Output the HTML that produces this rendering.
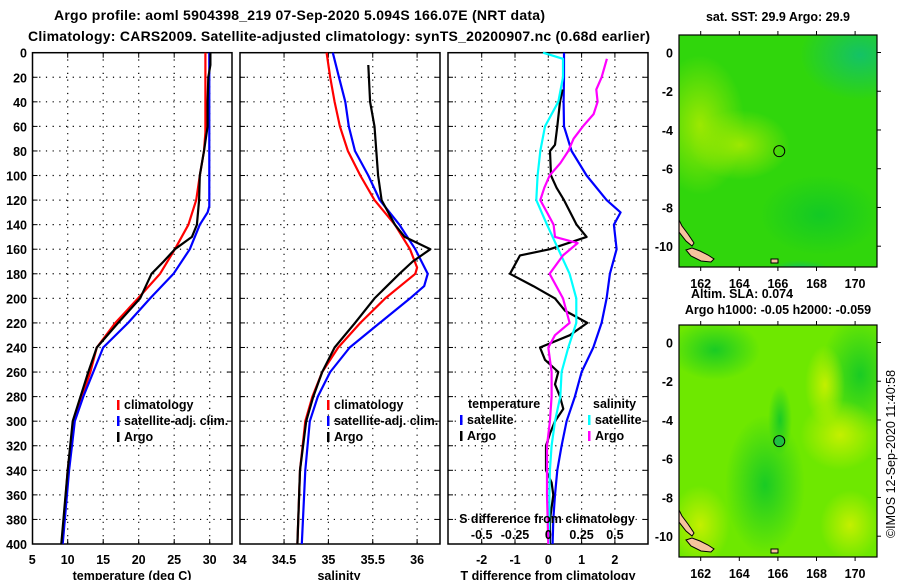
<!DOCTYPE html>
<html><head><meta charset="utf-8"><style>
body{margin:0;background:#fff;}
svg{display:block;font-family:"Liberation Sans",sans-serif;font-weight:bold;}
</style></head><body>
<svg id="fig" width="900" height="580" viewBox="0 0 900 580">
<defs>
<radialGradient id="yg1"><stop offset="0" stop-color="#a8ea00" stop-opacity="0.9"/><stop offset="1" stop-color="#a8ea00" stop-opacity="0"/></radialGradient>
<radialGradient id="dg1"><stop offset="0" stop-color="#10c828" stop-opacity="0.9"/><stop offset="1" stop-color="#10c828" stop-opacity="0"/></radialGradient>
<radialGradient id="bg1"><stop offset="0" stop-color="#10c070" stop-opacity="0.9"/><stop offset="1" stop-color="#10c070" stop-opacity="0"/></radialGradient>
<radialGradient id="yy"><stop offset="0" stop-color="#c8f000" stop-opacity="0.95"/><stop offset="1" stop-color="#c8f000" stop-opacity="0"/></radialGradient>
<clipPath id="cm1"><rect x="679" y="35" width="198" height="232"/></clipPath>
<clipPath id="cm2"><rect x="679" y="325" width="198" height="232"/></clipPath>
</defs>
<text x="54" y="20" font-size="14" textLength="491">Argo profile: aoml 5904398_219 07-Sep-2020 5.094S 166.07E (NRT data)</text>
<text x="28" y="41" font-size="14" textLength="622">Climatology: CARS2009. Satellite-adjusted climatology: synTS_20200907.nc (0.68d earlier)</text>
<g id="maps"></g>
<g id="panels"></g>
</svg>
<script>
// ---- data ----
const depthTicks=[0,20,40,60,80,100,120,140,160,180,200,220,240,260,280,300,320,340,360,380,400];
const tTicks=[5,10,15,20,25,30];
const sTicks=[34,34.5,35,35.5,36];
const dTTicks=[-2,-1,0,1,2];
const dSTicks=[-0.5,-0.25,0,0.25,0.5];
const tempClimDepth=[0,65,80,100,120,140,160,180,200,220,240,260,280,300,340,400];
const tempClim=[29.4,29.4,29.2,28.6,28.1,27,25.1,23,19.9,16.7,14.1,13.2,12,10.8,10,9.2];
const tempSatDepth=[0,125,130,140,160,180,200,220,240,260,280,300,340,400];
const tempSat=[29.95,29.95,29.7,28.6,27.2,24.9,21.6,18.5,15,13.6,12.2,11,10.2,9.3];
const tempArgoDepth=[0,10,20,40,60,80,100,120,140,150,160,170,180,200,220,240,260,280,300,340,400];
const tempArgo=[30.1,30.1,29.8,29.7,29.7,29.2,28.6,28.5,28.2,27.5,25.1,23.5,21.8,20.2,17.1,14.1,12.9,11.8,10.7,10,9.1];
const salClimDepth=[0,20,40,60,80,100,120,140,160,175,180,200,220,240,260,280,300,340,400];
const salClim=[34.98,35.02,35.07,35.13,35.22,35.36,35.52,35.75,35.92,36.0,35.98,35.64,35.36,35.11,34.93,34.82,34.74,34.68,34.65];
const salSatDepth=[0,20,40,60,80,100,120,140,160,180,190,200,220,240,260,280,300,340,400];
const salSat=[35.05,35.12,35.19,35.23,35.3,35.45,35.58,35.8,35.98,36.12,36.08,35.92,35.58,35.24,35.02,34.88,34.79,34.74,34.7];
const salArgoDepth=[10,40,60,100,120,140,150,160,170,180,200,220,240,260,280,300,340,400];
const salArgo=[35.45,35.47,35.52,35.56,35.6,35.75,35.86,36.15,35.95,35.8,35.52,35.3,35.07,34.93,34.83,34.75,34.68,34.65];
const dTSatDepth=[0,20,40,60,80,100,120,130,140,160,180,200,220,240,260,280,300,320,340,360,380,400];
const dTSat=[0.47,0.47,0.46,0.47,0.7,1.15,1.75,2.17,1.97,2.05,1.85,1.75,1.6,1.35,1.0,0.8,0.55,0.4,0.27,0.2,0.15,0.13];
const dTArgoDepth=[30,40,60,75,80,100,110,120,140,150,160,165,180,190,200,210,220,230,240,250,260,270,280,290,300,310,320,340,350,360,380,400];
const dTArgo=[0.43,0.35,0.27,0.2,0.05,0.08,0.25,0.47,0.85,1.15,0.05,-0.85,-1.15,-0.45,0.2,0.5,1.17,0.65,-0.25,-0.1,0.3,0.2,0.35,0.45,0.2,0.05,-0.07,-0.07,0.1,0.15,0.05,0.05];
const dSSatDepth=[0,5,20,40,60,80,100,120,140,160,180,200,220,240,260,280,300,320,340,360,400];
const dSSat=[-0.04,0.11,0.11,0.075,-0.025,-0.06,-0.08,-0.09,-0.01,0.075,0.16,0.21,0.21,0.15,0.1,0.09,0.05,0.025,0.012,0.008,0.005];
const dSArgoDepth=[5,20,30,40,50,60,70,80,90,100,110,120,130,140,150,155,165,180,200,220,230,240,260,280,300,320,360,400];
const dSArgo=[0.44,0.4,0.36,0.37,0.34,0.26,0.19,0.15,0.09,0.01,-0.03,-0.06,-0.01,0.04,0.05,0.22,0.11,0.01,0.11,0.16,0.05,0,0.025,0.025,0.012,-0.01,-0.01,0];
const lonTicks=[162,164,166,168,170];
const latTicks=[0,-2,-4,-6,-8,-10];
const floatLon=[166.07], floatLat=[-5.094];

const NS='http://www.w3.org/2000/svg';
function el(tag,attrs,parent,txt){const e=document.createElementNS(NS,tag);for(const k in attrs)e.setAttribute(k,attrs[k]);if(txt!==undefined)e.textContent=txt;parent.appendChild(e);return e;}
const P=document.getElementById('panels');
const Y0=52.7,Y1=544;
const yD=d=>Y0+(d/400)*(Y1-Y0);
const xT=t=>32.2+(t-5)*7.1;
const xS=s=>239.7+(s-34)*88.7;
const xdT=t=>548.3+t*33.3;
const xdS=s=>548.3+s*133.2;

function frame(x0,x1,name,gridX){
  const g=el('g',{},P);
  
  
  depthTicks.forEach((d,i)=>{if(d>0&&d<400){const l=el('line',{x1:x0,x2:x1,y1:yD(d),y2:yD(d),stroke:'#000','stroke-width':1.2,'stroke-dasharray':'1.2 5.5'},g);
    el('line',{x1:x0,x2:x0+5,y1:yD(d),y2:yD(d),stroke:'#000','stroke-width':1},g);el('line',{x1:x1-5,x2:x1,y1:yD(d),y2:yD(d),stroke:'#000','stroke-width':1},g);}});
  gridX.forEach(x=>{el('line',{x1:x,x2:x,y1:Y0,y2:Y1,stroke:'#000','stroke-width':1.2,'stroke-dasharray':'1.2 5.5'},g);el('line',{x1:x,x2:x,y1:Y0,y2:Y0+5,stroke:'#000'},g);el('line',{x1:x,x2:x,y1:Y1-5,y2:Y1,stroke:'#000'},g);});
  const r=el('rect',{x:x0,y:Y0,width:x1-x0,height:Y1-Y0,fill:'none',stroke:'#000','stroke-width':1.5},g);
  
  return g;
}
function line(xs,ds,fx,color,name,g,w){
  const pts=xs.map((v,i)=>fx(v).toFixed(1)+','+yD(ds[i]).toFixed(1)).join(' ');
  const p=el('polyline',{points:pts,fill:'none',stroke:color,'stroke-width':w||2.2,'stroke-linejoin':'round'},g);
  
  
}
function txt(x,y,s,parent,name,anchor,size){const t=el('text',{x:x,y:y,'font-size':size||12.5,'text-anchor':anchor||'start'},parent,s);return t;}
function legendItem(g,x,y,color,label,name){el('rect',{x:x,y:y-9,width:2.5,height:10,fill:color},g);txt(x+7,y,label,g,name);}

// panel 1
const g1=frame(32.5,232,'temperature-panel',tTicks.slice(1).map(xT));
depthTicks.forEach(d=>txt(27,yD(d)+5,String(d),g1,'y-tick-label','end'));
tTicks.forEach(t=>txt(xT(t),564,String(t),g1,'x-tick-label','middle'));
txt(132,580,'temperature (deg C)',g1,'x-axis-title','middle');
line(tempClim,tempClimDepth,xT,'#f00','temp-climatology-line',g1);
line(tempSat,tempSatDepth,xT,'#00f','temp-satellite-line',g1);
line(tempArgo,tempArgoDepth,xT,'#000','temp-argo-line',g1);
legendItem(g1,117,409,'#f00','climatology','legend-climatology');
legendItem(g1,117,425,'#00f','satellite-adj. clim.','legend-satellite');
legendItem(g1,117,441,'#000','Argo','legend-argo');

// panel 2
const g2=frame(240,440,'salinity-panel',sTicks.slice(1).map(xS));
sTicks.forEach(s=>txt(xS(s),564,String(s),g2,'x-tick-label','middle'));
txt(339,580,'salinity',g2,'x-axis-title','middle');
line(salClim,salClimDepth,xS,'#f00','sal-climatology-line',g2);
line(salSat,salSatDepth,xS,'#00f','sal-satellite-line',g2);
line(salArgo,salArgoDepth,xS,'#000','sal-argo-line',g2);
legendItem(g2,327,409,'#f00','climatology','legend-climatology');
legendItem(g2,327,425,'#00f','satellite-adj. clim.','legend-satellite');
legendItem(g2,327,441,'#000','Argo','legend-argo');

// panel 3
const g3=frame(448,648,'difference-panel',dTTicks.map(xdT));
dTTicks.forEach(t=>txt(xdT(t),564,String(t),g3,'t-diff-tick-label','middle'));
txt(548,580,'T difference from climatology',g3,'x-axis-title','middle');
line(dTSat,dTSatDepth,xdT,'#00f','dT-satellite-line',g3);
line(dTArgo,dTArgoDepth,xdT,'#000','dT-argo-line',g3);
line(dSSat,dSSatDepth,xdS,'#0ff','dS-satellite-line',g3);
line(dSArgo,dSArgoDepth,xdS,'#f0f','dS-argo-line',g3);
txt(468,408,'temperature',g3,'legend-header-temperature');
txt(593,408,'salinity',g3,'legend-header-salinity');
legendItem(g3,460,424,'#00f','satellite','legend-t-satellite');
legendItem(g3,460,440,'#000','Argo','legend-t-argo');
legendItem(g3,588,424,'#0ff','satellite','legend-s-satellite');
legendItem(g3,588,440,'#f0f','Argo','legend-s-argo');
txt(547,523,'S difference from climatology',g3,'s-axis-title','middle');
dSTicks.forEach(s=>txt(xdS(s),539,String(s),g3,'s-diff-tick-label','middle'));

// maps
const M=document.getElementById('maps');
function map(top,name,clip,base,blobs,title,titleY){
  const g=el('g',{},M);
  
  
  const gi=el('g',{'clip-path':'url(#'+clip+')'},g);
  el('rect',{x:679,y:top,width:198,height:232,fill:base},gi);
  blobs.forEach(b=>el('ellipse',{cx:b[0],cy:top+b[1],rx:b[2],ry:b[3],fill:'url(#'+b[4]+')'},gi));
  // land
  const l1=el('path',{d:`M679 ${top+185} l3 6 l6 8 l6 9 l-2 3 l-6 -5 l-7 -9 z`,fill:'#f6c39e',stroke:'#000','stroke-width':1},gi);
  
  const l2=el('path',{d:`M686 ${top+215} l6 -2 l8 3 l8 4 l6 4 l-3 3 l-10 -1 l-10 -5 z`,fill:'#f6c39e',stroke:'#000','stroke-width':1},gi);
  
  el('rect',{x:771,y:top+224,width:7,height:4,fill:'#f6c39e',stroke:'#000','stroke-width':1},gi);
  const y0=top+17.5;
  const xL=l=>700.7+(l-162)*19.3, yL=l=>y0-l*19.37;
  el('rect',{x:679,y:top,width:198,height:232,fill:'none',stroke:'#000','stroke-width':1.2},g);
  lonTicks.forEach(l=>{el('line',{x1:xL(l),x2:xL(l),y1:top-4,y2:top,stroke:'#000'},g);el('line',{x1:xL(l),x2:xL(l),y1:top+232,y2:top+236,stroke:'#000'},g);txt(xL(l),top+253,String(l),g,'lon-tick-label','middle');});
  latTicks.forEach(l=>{el('line',{x1:877,x2:881,y1:yL(l),y2:yL(l),stroke:'#000'},g);txt(673,yL(l)+5,String(l),g,'lat-tick-label','end');});
  floatLon.forEach((lo,i)=>{const c=el('circle',{cx:xL(lo),cy:yL(floatLat[i]),r:5.5,fill:clip==='cm2'?'#20c040':'none',stroke:'#000','stroke-width':1},g);});
  txt(778,titleY,title,g,'map-title','middle');
}
map(35,'sst-map','cm1','#30d60c',[[700,90,45,70,'yg1'],[740,110,50,35,'yg1'],[860,20,60,45,'bg1'],[820,180,60,40,'dg1'],[800,235,30,10,'bg1']],'sat. SST: 29.9 Argo: 29.9',21);
map(325,'sla-map','cm2','#6ee800',[[715,25,45,30,'dg1'],[860,50,40,60,'dg1'],[765,160,40,70,'dg1'],[780,95,12,35,'dg1'],[840,110,40,35,'yy'],[850,200,30,35,'yy'],[700,200,30,40,'yy'],[825,60,20,40,'yy']],'Argo h1000: -0.05 h2000: -0.059',314);
txt(742,298,'Altim. SLA: 0.074',M,'sla-label','middle');
const cr=txt(0,0,'©IMOS 12-Sep-2020 11:40:58',M,'copyright-label','middle');
cr.setAttribute('transform','translate(895,454) rotate(-90)');
cr.setAttribute('font-weight','normal');
</script>
</body></html>
